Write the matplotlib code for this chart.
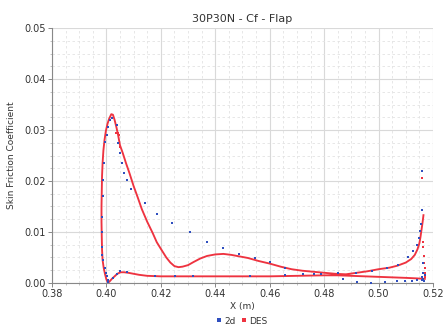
import matplotlib
matplotlib.use("Agg")
import matplotlib.pyplot as plt
from matplotlib.ticker import MultipleLocator

# DES skin friction, traced round the flap: upper surface from the trailing
# edge to the leading edge, then the lower surface back to the trailing edge
des_x = [0.5165, 0.5162, 0.5158, 0.5154, 0.5150, 0.5143, 0.5133, 0.5120, 0.5100, 0.5070,
         0.5040, 0.5000, 0.4960, 0.4920, 0.4880, 0.4840, 0.4800, 0.4760, 0.4720, 0.4680,
         0.4640, 0.4600, 0.4560, 0.4520, 0.4490, 0.4460, 0.4430, 0.4400, 0.4370, 0.4345,
         0.4320, 0.4300, 0.4280, 0.4265, 0.4250, 0.4235, 0.4220, 0.4200, 0.4185, 0.4170,
         0.4150, 0.4130, 0.4115, 0.4100, 0.4085, 0.4072, 0.4060, 0.4050, 0.4043, 0.4037,
         0.4030, 0.4024, 0.4018, 0.4010, 0.4004, 0.3998, 0.3993, 0.3989, 0.3986, 0.3984,
         0.3983, 0.3982, 0.3982, 0.3983, 0.3984, 0.3986, 0.3990, 0.3995, 0.4000, 0.4005,
         0.4010, 0.4020, 0.4030, 0.4040, 0.4052, 0.4065, 0.4080, 0.4100, 0.4120, 0.4150,
         0.4200, 0.4300, 0.4400, 0.4500, 0.4600, 0.4700, 0.4800, 0.4850, 0.4900, 0.4950,
         0.5000, 0.5050, 0.5100, 0.5140, 0.5170]
des_cf = [0.0133, 0.0120, 0.0105, 0.0090, 0.0078, 0.0066, 0.0055, 0.0047, 0.0040, 0.0034,
          0.0030, 0.0027, 0.0023, 0.0020, 0.0017, 0.0018, 0.0020, 0.0022, 0.0024, 0.0027,
          0.0032, 0.0038, 0.0043, 0.0049, 0.0052, 0.0055, 0.0057, 0.0056, 0.0053, 0.0048,
          0.0041, 0.0035, 0.0032, 0.0031, 0.0033, 0.0040, 0.0050, 0.0067, 0.0080, 0.0098,
          0.0120, 0.0145, 0.0168, 0.0190, 0.0215, 0.0235, 0.0255, 0.0270, 0.0290, 0.0305,
          0.0320, 0.0330, 0.0331, 0.0322, 0.0312, 0.0298, 0.0280, 0.0260, 0.0235, 0.0210,
          0.0180, 0.0150, 0.0120, 0.0090, 0.0065, 0.0045, 0.0030, 0.0017, 0.0007, 0.0001,
          0.0002, 0.0008, 0.0013, 0.0018, 0.0021, 0.0021, 0.0020, 0.0018, 0.0016, 0.0014,
          0.0013, 0.0013, 0.0013, 0.0013, 0.0013, 0.0014, 0.0015, 0.0015, 0.0014, 0.0013,
          0.0012, 0.0011, 0.0010, 0.0009, 0.0008]

# loose DES points near the suction peak and at the trailing edge
des_extra_x = [0.4034, 0.4044, 0.4046, 0.4041, 0.4050, 0.5160, 0.5163, 0.5163, 0.5168,
               0.5168, 0.5169, 0.5170, 0.5170]
des_extra_cf = [0.0295, 0.0294, 0.0290, 0.0274, 0.0266, 0.0206, 0.0081, 0.0071, 0.0052,
                0.0040, 0.0029, 0.0019, 0.0012]

# 2d RANS skin friction
rans_x = [0.4007, 0.4005, 0.4001, 0.3997, 0.3995, 0.3989, 0.3985, 0.3983, 0.3983, 0.3984,
          0.3986, 0.3989, 0.3991, 0.3995, 0.4001, 0.4007, 0.4013, 0.4019, 0.4038, 0.4041,
          0.4050, 0.4056, 0.4066, 0.4077, 0.4090, 0.4142, 0.4185, 0.4242, 0.4306, 0.4369,
          0.4427, 0.4486, 0.4546, 0.4600, 0.4656, 0.4724, 0.4763, 0.4789, 0.4852, 0.4917,
          0.4975, 0.5030, 0.5073, 0.5109, 0.5128, 0.5140, 0.5148, 0.5152, 0.5155, 0.5158,
          0.5158,
          0.4025, 0.4038, 0.4050, 0.4077, 0.4178, 0.4252, 0.4318, 0.4528, 0.4656, 0.4871,
          0.4922, 0.4972, 0.5024, 0.5067, 0.5097, 0.5122, 0.5140, 0.5158, 0.5160, 0.5163,
          0.5165, 0.5168, 0.5162, 0.5170]
rans_cf = [0.0001, 0.0006, 0.0014, 0.0020, 0.0029, 0.0045, 0.0055, 0.0071, 0.0100, 0.0130,
           0.0170, 0.0202, 0.0235, 0.0277, 0.0290, 0.0306, 0.0320, 0.0323, 0.0310, 0.0274,
           0.0254, 0.0235, 0.0216, 0.0201, 0.0184, 0.0156, 0.0135, 0.0117, 0.0099, 0.0081,
           0.0068, 0.0057, 0.0049, 0.0041, 0.0030, 0.0017, 0.0017, 0.0017, 0.0019, 0.0020,
           0.0024, 0.0029, 0.0036, 0.0050, 0.0063, 0.0075, 0.0088, 0.0101, 0.0115, 0.0144,
           0.0220,
           0.0009, 0.0018, 0.0024, 0.0022, 0.0013, 0.0013, 0.0013, 0.0014, 0.0016, 0.0007,
           0.0001, 0.0000, 0.0001, 0.0003, 0.0004, 0.0004, 0.0006, 0.0005, 0.0012, 0.0020,
           0.0008, 0.0003, 0.0039, 0.0015]

red = "#ee3340"
blue = "#2f4fbf"
text_col = "#333333"

fig = plt.figure(figsize=(4.48, 3.26), dpi=100)
ax = fig.add_axes([0.116, 0.132, 0.8505, 0.782])

ax.plot(des_x, des_cf, "-", color=red, lw=1.35, zorder=3)
ax.plot(des_extra_x, des_extra_cf, "s", color=red, ms=1.6, mew=0, zorder=3)
ax.plot(rans_x, rans_cf, "s", color=blue, ms=2.0, mew=0, zorder=4)

ax.set_xlim(0.38, 0.52)
ax.set_ylim(0.0, 0.05)
ax.xaxis.set_major_locator(MultipleLocator(0.02))
ax.xaxis.set_minor_locator(MultipleLocator(0.005))
ax.yaxis.set_major_locator(MultipleLocator(0.01))
ax.yaxis.set_minor_locator(MultipleLocator(0.0025))
ax.xaxis.set_major_formatter(plt.FormatStrFormatter("%.2f"))
ax.yaxis.set_major_formatter(plt.FormatStrFormatter("%.2f"))

ax.grid(which="major", color="#d9d9d9", lw=0.8)
ax.grid(which="minor", color="#e3e3e3", lw=0.6, ls=(0, (3, 3)))
ax.set_axisbelow(True)

for side in ["top", "right"]:
    ax.spines[side].set_visible(False)
for side in ["left", "bottom"]:
    ax.spines[side].set_color("#888888")
    ax.spines[side].set_linewidth(0.8)

ax.tick_params(which="major", length=3, width=0.7, color="#888888", labelsize=7,
               labelcolor=text_col, pad=1.5)
ax.tick_params(which="minor", length=1.5, width=0.5, color="#aaaaaa")

ax.set_title("30P30N - Cf - Flap", fontsize=8, color=text_col, pad=4)
ax.set_xlabel("X (m)", fontsize=6.5, color=text_col, labelpad=2)
ax.set_ylabel("Skin Friction Coefficient", fontsize=6.5, color=text_col, labelpad=6)

h1, = ax.plot([], [], "s", color=blue, ms=2.2, mew=0)
h2, = ax.plot([], [], "s", color=red, ms=2.2, mew=0)
fig.legend([h1, h2], ["2d", "DES"], loc="center", bbox_to_anchor=(0.54, 0.015), ncol=2,
           frameon=False, fontsize=6.5, handlelength=0.6, handletextpad=0.3,
           columnspacing=0.6, labelcolor=text_col, borderpad=0.1)

fig.savefig("out.png", dpi=100)
